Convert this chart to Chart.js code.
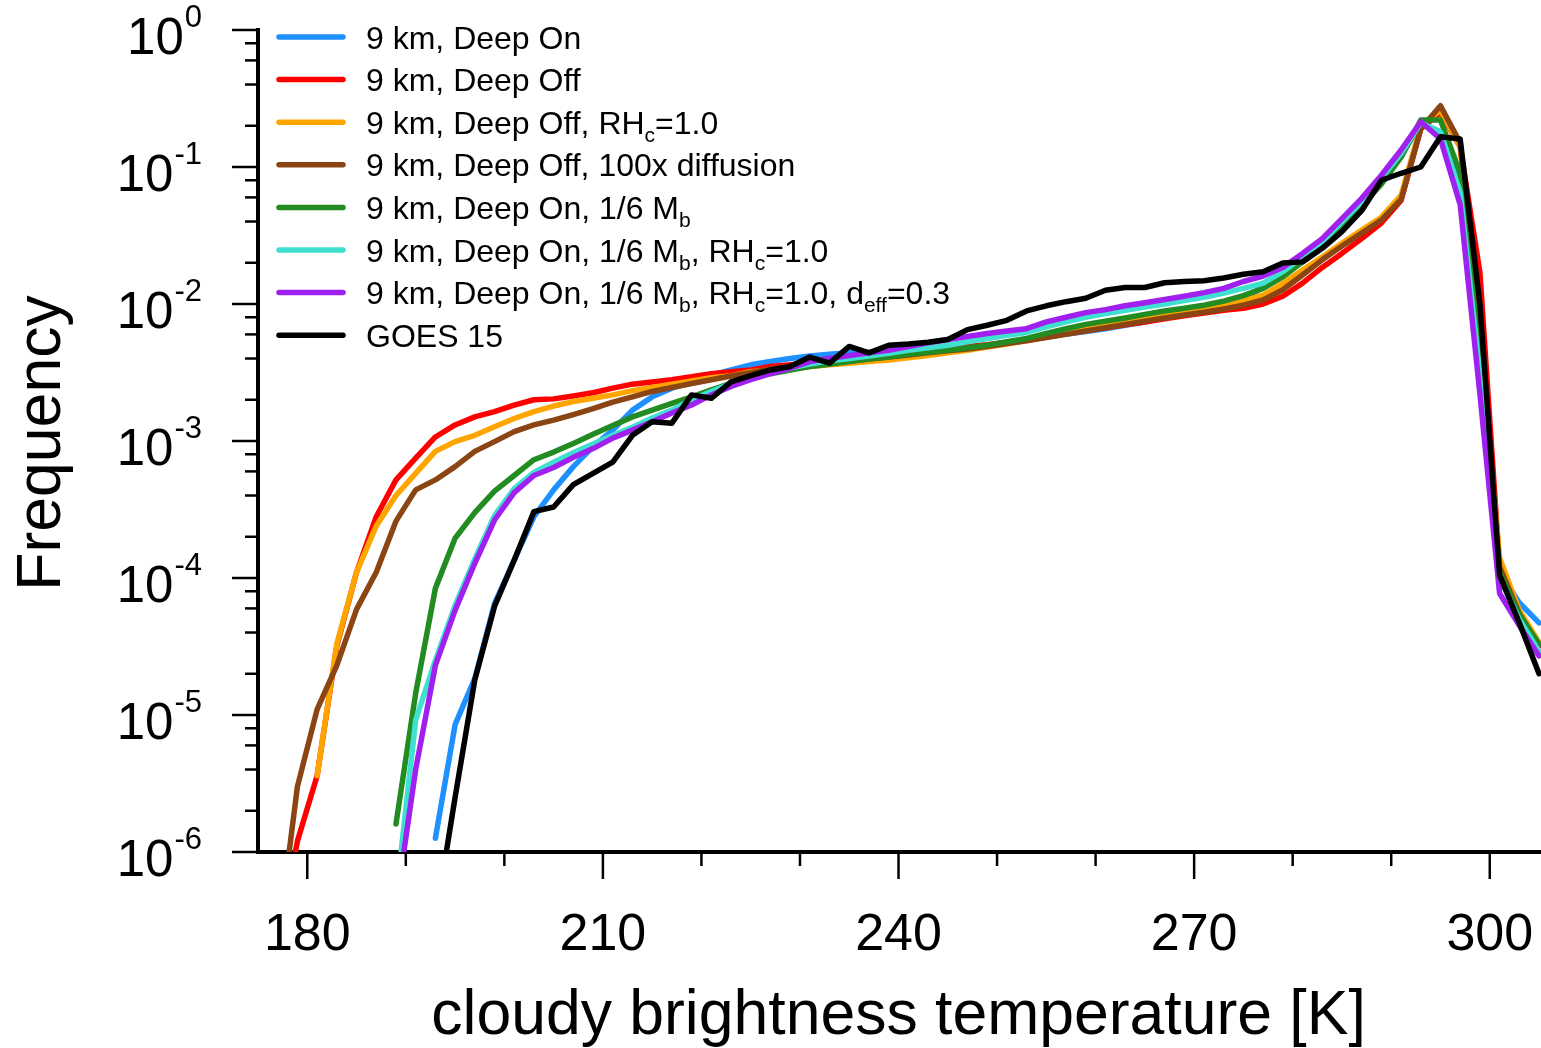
<!DOCTYPE html>
<html>
<head>
<meta charset="utf-8">
<script src="https://cdn.jsdelivr.net/npm/chart.js@4.4.1/dist/chart.umd.min.js"></script>
<style>
  html, body { margin:0; padding:0; background:#fff; }
  canvas { display:block; }
</style>
</head>
<body>
<canvas id="histChart" width="1541" height="1048"></canvas>
<script>
const FONT = "'Liberation Sans', Arial, Helvetica, sans-serif";

// bin centres [K]
const bins = [177,179,181,183,185,187,189,191,193,195,197,199,201,203,205,207,209,
  211,213,215,217,219,221,223,225,227,229,231,233,235,237,239,241,243,245,247,249,
  251,253,255,257,259,261,263,265,267,269,271,273,275,277,279,281,283,285,287,289,
  291,293,295,297,299,301,303,305];

const deepOn = [null,null,null,null,null,null,null,null,
  1.26e-6,8.5e-6,1.85e-5,6.5e-5,1.35e-4,2.8e-4,4.4e-4,6.5e-4,9.1e-4,
  1.2e-3,1.68e-3,2.1e-3,2.43e-3,2.7e-3,3.03e-3,3.3e-3,3.6e-3,3.8e-3,4.0e-3,
  4.17e-3,4.3e-3,4.4e-3,4.45e-3,4.5e-3,4.55e-3,4.6e-3,4.7e-3,4.85e-3,5.0e-3,
  5.2e-3,5.45e-3,5.75e-3,6.05e-3,6.3e-3,6.6e-3,7.0e-3,7.4e-3,7.9e-3,8.4e-3,
  8.9e-3,9.6e-3,1.08e-2,1.35e-2,1.65e-2,2.1e-2,2.75e-2,3.8e-2,5.4e-2,8.0e-2,
  0.12,0.21,0.18,0.08,3.5e-3,1.1e-4,6.6e-5,4.7e-5];

const deepOff = [2e-7,1.2e-6,3.6e-6,3.2e-5,1.1e-4,2.8e-4,5.2e-4,7.5e-4,
  1.07e-3,1.31e-3,1.5e-3,1.64e-3,1.83e-3,2.0e-3,2.03e-3,2.13e-3,2.25e-3,
  2.43e-3,2.6e-3,2.7e-3,2.8e-3,2.95e-3,3.1e-3,3.2e-3,3.3e-3,3.5e-3,3.6e-3,
  3.7e-3,3.85e-3,4.0e-3,4.15e-3,4.3e-3,4.55e-3,4.65e-3,4.75e-3,4.9e-3,5.05e-3,
  5.25e-3,5.5e-3,5.8e-3,6.1e-3,6.4e-3,6.7e-3,7.05e-3,7.4e-3,7.8e-3,8.2e-3,
  8.6e-3,9.0e-3,9.3e-3,1.0e-2,1.14e-2,1.42e-2,1.85e-2,2.34e-2,3.0e-2,3.9e-2,
  5.7e-2,0.19,0.25,0.14,1.7e-2,1.2e-4,5.3e-5,3.2e-5];

const deepOffRH = [null,null,3.6e-6,3.3e-5,1.1e-4,2.4e-4,4.0e-4,5.8e-4,
  8.4e-4,9.9e-4,1.1e-3,1.27e-3,1.46e-3,1.64e-3,1.8e-3,1.94e-3,2.05e-3,
  2.17e-3,2.33e-3,2.46e-3,2.6e-3,2.74e-3,2.9e-3,3.0e-3,3.2e-3,3.3e-3,3.4e-3,
  3.5e-3,3.6e-3,3.7e-3,3.8e-3,3.9e-3,4.05e-3,4.2e-3,4.4e-3,4.6e-3,4.85e-3,
  5.1e-3,5.4e-3,5.75e-3,6.15e-3,6.55e-3,7.0e-3,7.45e-3,7.9e-3,8.4e-3,8.9e-3,
  9.4e-3,1.0e-2,1.07e-2,1.16e-2,1.41e-2,1.77e-2,2.2e-2,2.77e-2,3.47e-2,4.3e-2,
  6.2e-2,0.2,0.26,0.14,5e-3,1.4e-4,5.8e-5,3.4e-5];

const deepOffDiff = [2.2e-7,3.0e-6,1.1e-5,2.3e-5,5.9e-5,1.1e-4,2.6e-4,4.4e-4,
  5.2e-4,6.5e-4,8.4e-4,9.9e-4,1.17e-3,1.31e-3,1.42e-3,1.56e-3,1.72e-3,
  1.92e-3,2.1e-3,2.3e-3,2.46e-3,2.63e-3,2.8e-3,2.98e-3,3.15e-3,3.35e-3,3.5e-3,
  3.63e-3,3.73e-3,3.84e-3,3.97e-3,4.1e-3,4.25e-3,4.4e-3,4.55e-3,4.7e-3,4.9e-3,
  5.15e-3,5.4e-3,5.7e-3,6.0e-3,6.35e-3,6.7e-3,7.1e-3,7.5e-3,7.9e-3,8.3e-3,
  8.7e-3,9.2e-3,9.8e-3,1.07e-2,1.27e-2,1.63e-2,2.1e-2,2.65e-2,3.3e-2,4.1e-2,
  5.8e-2,0.19,0.28,0.15,5e-3,1.2e-4,5.5e-5,3.2e-5];

const deepOnMb = [null,null,null,null,null,null,1.6e-6,1.44e-5,
  8.4e-5,1.95e-4,3.0e-4,4.3e-4,5.6e-4,7.3e-4,8.3e-4,9.6e-4,1.12e-3,
  1.3e-3,1.5e-3,1.68e-3,1.88e-3,2.1e-3,2.36e-3,2.63e-3,2.88e-3,3.1e-3,3.3e-3,
  3.5e-3,3.63e-3,3.8e-3,3.97e-3,4.1e-3,4.3e-3,4.45e-3,4.6e-3,4.8e-3,5.0e-3,
  5.3e-3,5.6e-3,6.1e-3,6.6e-3,7.1e-3,7.5e-3,7.9e-3,8.4e-3,8.9e-3,9.3e-3,
  9.8e-3,1.05e-2,1.15e-2,1.3e-2,1.58e-2,2.03e-2,2.6e-2,3.6e-2,5.2e-2,7.5e-2,
  0.118,0.22,0.22,0.09,4e-3,1.1e-4,5.4e-5,3.3e-5];

const deepOnMbRH = [null,null,null,null,null,null,4.6e-7,9.2e-6,
  2.5e-5,6.3e-5,1.38e-4,2.85e-4,4.5e-4,5.9e-4,7.0e-4,8.2e-4,9.5e-4,
  1.1e-3,1.26e-3,1.47e-3,1.68e-3,2.0e-3,2.3e-3,2.63e-3,2.9e-3,3.15e-3,3.4e-3,
  3.65e-3,3.85e-3,4.0e-3,4.17e-3,4.36e-3,4.6e-3,4.8e-3,5.0e-3,5.3e-3,5.6e-3,
  5.9e-3,6.2e-3,6.8e-3,7.4e-3,8.0e-3,8.5e-3,9.0e-3,9.5e-3,1.0e-2,1.06e-2,
  1.12e-2,1.2e-2,1.3e-2,1.42e-2,1.72e-2,2.2e-2,2.85e-2,4.0e-2,5.6e-2,8.3e-2,
  0.126,0.21,0.18,0.065,3e-3,1.0e-4,5.0e-5,2.9e-5];

const deepOnMbRHdeff = [null,null,null,null,null,null,4e-7,4e-6,
  2.3e-5,5.8e-5,1.28e-4,2.65e-4,4.2e-4,5.6e-4,6.4e-4,7.6e-4,8.8e-4,
  1.05e-3,1.2e-3,1.38e-3,1.6e-3,1.83e-3,2.17e-3,2.5e-3,2.8e-3,3.1e-3,3.4e-3,
  3.8e-3,4.0e-3,4.2e-3,4.4e-3,4.6e-3,4.9e-3,5.2e-3,5.5e-3,5.8e-3,6.1e-3,
  6.35e-3,6.6e-3,7.4e-3,8.0e-3,8.65e-3,9.1e-3,9.7e-3,1.02e-2,1.08e-2,1.14e-2,
  1.21e-2,1.3e-2,1.46e-2,1.6e-2,1.85e-2,2.34e-2,3.0e-2,4.2e-2,5.9e-2,8.7e-2,
  0.133,0.214,0.16,0.053,2.2e-3,7.7e-5,4.5e-5,2.7e-5];

const goes15 = [null,null,null,null,null,null,null,null,
  3.2e-7,2.5e-6,1.8e-5,6.2e-5,1.35e-4,3.05e-4,3.3e-4,4.8e-4,5.8e-4,
  7.0e-4,1.1e-3,1.38e-3,1.35e-3,2.17e-3,2.05e-3,2.7e-3,3.0e-3,3.3e-3,3.5e-3,
  4.1e-3,3.7e-3,4.9e-3,4.4e-3,5.0e-3,5.1e-3,5.25e-3,5.5e-3,6.5e-3,7.0e-3,
  7.6e-3,8.9e-3,9.7e-3,1.04e-2,1.1e-2,1.26e-2,1.32e-2,1.32e-2,1.43e-2,1.46e-2,
  1.48e-2,1.55e-2,1.65e-2,1.72e-2,1.99e-2,2.03e-2,2.55e-2,3.37e-2,4.8e-2,8.0e-2,
  9.0e-2,0.1,0.166,0.16,1.0e-2,1.05e-4,4.7e-5,2.0e-5];

// legend labels, _{..} marks a subscript
const seriesLabels = [
  "9 km, Deep On",
  "9 km, Deep Off",
  "9 km, Deep Off, RH_{c}=1.0",
  "9 km, Deep Off, 100x diffusion",
  "9 km, Deep On, 1/6 M_{b}",
  "9 km, Deep On, 1/6 M_{b}, RH_{c}=1.0",
  "9 km, Deep On, 1/6 M_{b}, RH_{c}=1.0, d_{eff}=0.3",
  "GOES 15"
];
const seriesColors = ["#1e90ff","#ff0000","#ffa500","#8b4513","#228b22","#40e0d0","#a020f0","#000000"];
const seriesValues = [deepOn, deepOff, deepOffRH, deepOffDiff, deepOnMb, deepOnMbRH, deepOnMbRHdeff, goes15];

// ticks
const xMajor = [180,210,240,270,300];
const xMinor = [190,200,220,230,250,260,280,290];
const yExponents = [0,-1,-2,-3,-4,-5,-6];
const yMinorMant = [2,4,6,8];

const xTitle = "cloudy brightness temperature [K]";
const yTitle = "Frequency";


function drawRich(ctx, text, x, y, size){
  const parts = text.split(/(_\{[^}]*\})/);
  parts.forEach(p => {
    if (!p) return;
    if (p.startsWith("_{")) {
      const s = p.slice(2, -1);
      ctx.font = `${Math.round(size*0.66)}px ${FONT}`;
      ctx.fillText(s, x, y + size*0.26);
      x += ctx.measureText(s).width;
    } else {
      ctx.font = `${size}px ${FONT}`;
      ctx.fillText(p, x, y);
      x += ctx.measureText(p).width;
    }
  });
}

const axisDecor = {
  id: "axisDecor",
  afterDraw(chart){
    const { ctx, chartArea } = chart;
    const xs = chart.scales.x, ys = chart.scales.y;
    const left = chartArea.left, bottom = chartArea.bottom;
    ctx.save();
    ctx.strokeStyle = "#000";
    ctx.fillStyle = "#000";
    ctx.lineWidth = 2.5;
    ctx.lineCap = "butt";

    // x ticks
    const tick = (x1, y1, x2, y2) => { ctx.beginPath(); ctx.moveTo(x1,y1); ctx.lineTo(x2,y2); ctx.stroke(); };
    xMajor.forEach(v => { const px = xs.getPixelForValue(v); tick(px, bottom+2, px, bottom+27); });
    xMinor.forEach(v => { const px = xs.getPixelForValue(v); tick(px, bottom+2, px, bottom+14); });

    // y ticks
    yExponents.forEach(e => {
      const py = ys.getPixelForValue(Math.pow(10, e));
      tick(left-2, py, left-26, py);
      if (e < 0) {
        yMinorMant.forEach(m => {
          const pm = ys.getPixelForValue(m * Math.pow(10, e));
          tick(left-2, pm, left-13, pm);
        });
      }
    });

    // x tick labels
    ctx.font = `52px ${FONT}`;
    ctx.textAlign = "center";
    ctx.textBaseline = "alphabetic";
    xMajor.forEach(v => ctx.fillText(String(v), xs.getPixelForValue(v), 950));

    // y tick labels 10^n
    yExponents.forEach(e => {
      const py = ys.getPixelForValue(Math.pow(10, e));
      const exp = String(e);
      ctx.font = `31px ${FONT}`;
      const ew = ctx.measureText(exp).width;
      const rightX = 202;
      ctx.textAlign = "left";
      ctx.fillText(exp, rightX - ew, py - 3);
      ctx.font = `51px ${FONT}`;
      ctx.textAlign = "right";
      ctx.fillText("10", rightX - ew - 1, py + 24);
    });

    // axis titles
    ctx.font = `62.5px ${FONT}`;
    ctx.textAlign = "center";
    ctx.fillText(xTitle, xs.getPixelForValue(240), 1034);
    ctx.save();
    ctx.translate(60, 443);
    ctx.rotate(-Math.PI/2);
    ctx.fillText(yTitle, 0, 0);
    ctx.restore();

    // legend
    ctx.textAlign = "left";
    seriesLabels.forEach((lab, i) => {
      const y = 37 + i * 42.6;
      ctx.strokeStyle = seriesColors[i];
      ctx.lineWidth = 5.5;
      ctx.lineCap = "round";
      tick(279, y, 343, y);
      ctx.fillStyle = "#000";
      drawRich(ctx, lab, 366, y + 11.5, 32);
    });
    ctx.restore();
  }
};

const datasets = seriesValues.map((vals, i) => ({
  label: seriesLabels[i],
  data: bins.map((b, j) => ({ x: b, y: vals[j] })),
  borderColor: seriesColors[i],
  backgroundColor: seriesColors[i],
  borderWidth: 5.5,
  borderJoinStyle: "round",
  borderCapStyle: "round",
  pointRadius: 0,
  tension: 0,
  fill: false,
  clip: 0,
  order: seriesValues.length - i   // later series on top
}));

const ctx = document.getElementById("histChart").getContext("2d");
const chart = new Chart(ctx, {
  type: "line",
  data: { datasets },
  options: {
    responsive: false,
    animation: false,
    devicePixelRatio: 1,
    layout: { padding: { top: 30, right: 0, left: 0, bottom: 0 } },
    plugins: { legend: { display: false }, tooltip: { enabled: false } },
    scales: {
      x: {
        type: "linear", min: 175, max: 305.2,
        ticks: { display: false },
        grid: { display: false },
        border: { display: true, width: 4, color: "#000" },
        afterFit: s => { s.height = 196; }
      },
      y: {
        type: "logarithmic", min: 1e-6, max: 1,
        ticks: { display: false },
        grid: { display: false },
        border: { display: true, width: 4, color: "#000" },
        afterFit: s => { s.width = 258; }
      }
    }
  },
  plugins: [axisDecor]
});
</script>
</body>
</html>
